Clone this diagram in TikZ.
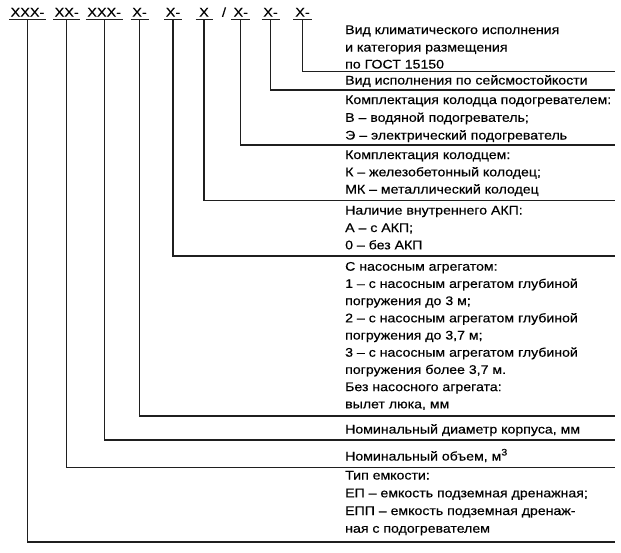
\documentclass[tikz,border=0pt]{standalone}
\usepackage{fontspec}
\setmainfont[FakeStretch=1.13,FakeBold=0.35]{Liberation Sans}
\begin{document}
\begin{tikzpicture}[x=1pt,y=-1pt,
  rule/.style={line width=1.1pt, draw=black!88},
  code/.style={anchor=base, inner xsep=0pt, inner ysep=2.3pt, text depth=0pt,
    font=\fontsize{12.8}{15}\selectfont},
  desc/.style={anchor=base west, inner sep=0pt, font=\fontsize{12.5}{15}\selectfont}]
\useasboundingbox (0,0) rectangle (621,552);
% code line
\node[code, minimum width=37pt]   (c1)  at (27.5,16.7)  {XXX-};
\node[code, minimum width=26.7pt] (c2)  at (66.7,16.7)  {XX-};
\node[code, minimum width=37pt]   (c3)  at (104.2,16.7) {XXX-};
\node[code, minimum width=17.6pt] (c4)  at (139.5,16.7) {X-};
\node[code, minimum width=17.4pt] (c5)  at (173,16.7)   {X-};
\node[code, minimum width=16.6pt] (c6)  at (204,16.7)   {X};
\node[code]                       (sl)  at (224,16.7)   {/};
\node[code, minimum width=18.3pt] (c8)  at (240.8,16.7) {X-};
\node[code, minimum width=17.6pt] (c9)  at (270.5,16.7) {X-};
\node[code, minimum width=18.4pt] (c10) at (302.5,16.7) {X-};
\foreach \n in {c1,c2,c3,c4,c5,c6,c8,c9,c10}
  \draw[rule] (\n.south west) -- (\n.south east);
% rule ends
\coordinate (r10) at (615,71.5);
\coordinate (r9)  at (615,90);
\coordinate (r8)  at (615,145);
\coordinate (r6)  at (615,200.5);
\coordinate (r5)  at (615,256);
\coordinate (r4)  at (615,416);
\coordinate (r3)  at (615,440);
\coordinate (r2)  at (615,467.5);
\coordinate (r1)  at (615,542);
\draw[rule] (c10.south) |- (r10);
\draw[rule] (c9.south)  |- (r9);
\draw[rule] (c8.south)  |- (r8);
\draw[rule] (c6.south)  |- (r6);
\draw[rule] (c5.south)  |- (r5);
\draw[rule] (c4.south)  |- (r4);
\draw[rule] (c3.south)  |- (r3);
\draw[rule] (c2.south)  |- (r2);
\draw[rule] (c1.south)  |- (r1);
% descriptions
\node[desc] (t10a) at (345,34)   {Вид климатического исполнения};
\node[desc] (t10b) at (345,51.5) {и категория размещения};
\node[desc] (t10c) at (345,68.5) {по ГОСТ 15150};
\node[desc] (t9a)  at (345,84.5) {Вид исполнения по сейсмостойкости};
\node[desc] (t8a)  at (345,104)   {Комплектация колодца подогревателем:};
\node[desc] (t8b)  at (345,121.8) {В – водяной подогреватель;};
\node[desc] (t8c)  at (345,139.5) {Э – электрический подогреватель};
\node[desc] (t6a)  at (345,159)   {Комплектация колодцем:};
\node[desc] (t6b)  at (345,176.3) {К – железобетонный колодец;};
\node[desc] (t6c)  at (345,193.5) {МК – металлический колодец};
\node[desc] (t5a)  at (345,214.5) {Наличие внутреннего АКП:};
\node[desc] (t5b)  at (345,232)   {А – с АКП;};
\node[desc] (t5c)  at (345,249.3) {0 – без АКП};
\node[desc] (t4a)  at (345,270.7) {С насосным агрегатом:};
\node[desc] (t4b)  at (345,287.9) {1 – с насосным агрегатом глубиной};
\node[desc] (t4c)  at (345,305.1) {погружения до 3 м;};
\node[desc] (t4d)  at (345,322.3) {2 – с насосным агрегатом глубиной};
\node[desc] (t4e)  at (345,339.5) {погружения до 3,7 м;};
\node[desc] (t4f)  at (345,356.7) {3 – с насосным агрегатом глубиной};
\node[desc] (t4g)  at (345,373.9) {погружения более 3,7 м.};
\node[desc] (t4h)  at (345,391.1) {Без насосного агрегата:};
\node[desc] (t4i)  at (345,408.3) {вылет люка, мм};
\node[desc] (t3a)  at (345,433.5) {Номинальный диаметр корпуса, мм};
\node[desc] (t2a)  at (345,460.5) {Номинальный объем, м\raisebox{5pt}{\fontsize{9.5}{10}\selectfont 3}};
\node[desc] (t1a)  at (345,479.5) {Тип емкости:};
\node[desc] (t1b)  at (345,497.3) {ЕП – емкость подземная дренажная;};
\node[desc] (t1c)  at (345,515)   {ЕПП – емкость подземная дренаж-};
\node[desc] (t1d)  at (345,532.7) {ная с подогревателем};
\end{tikzpicture}
\end{document}
